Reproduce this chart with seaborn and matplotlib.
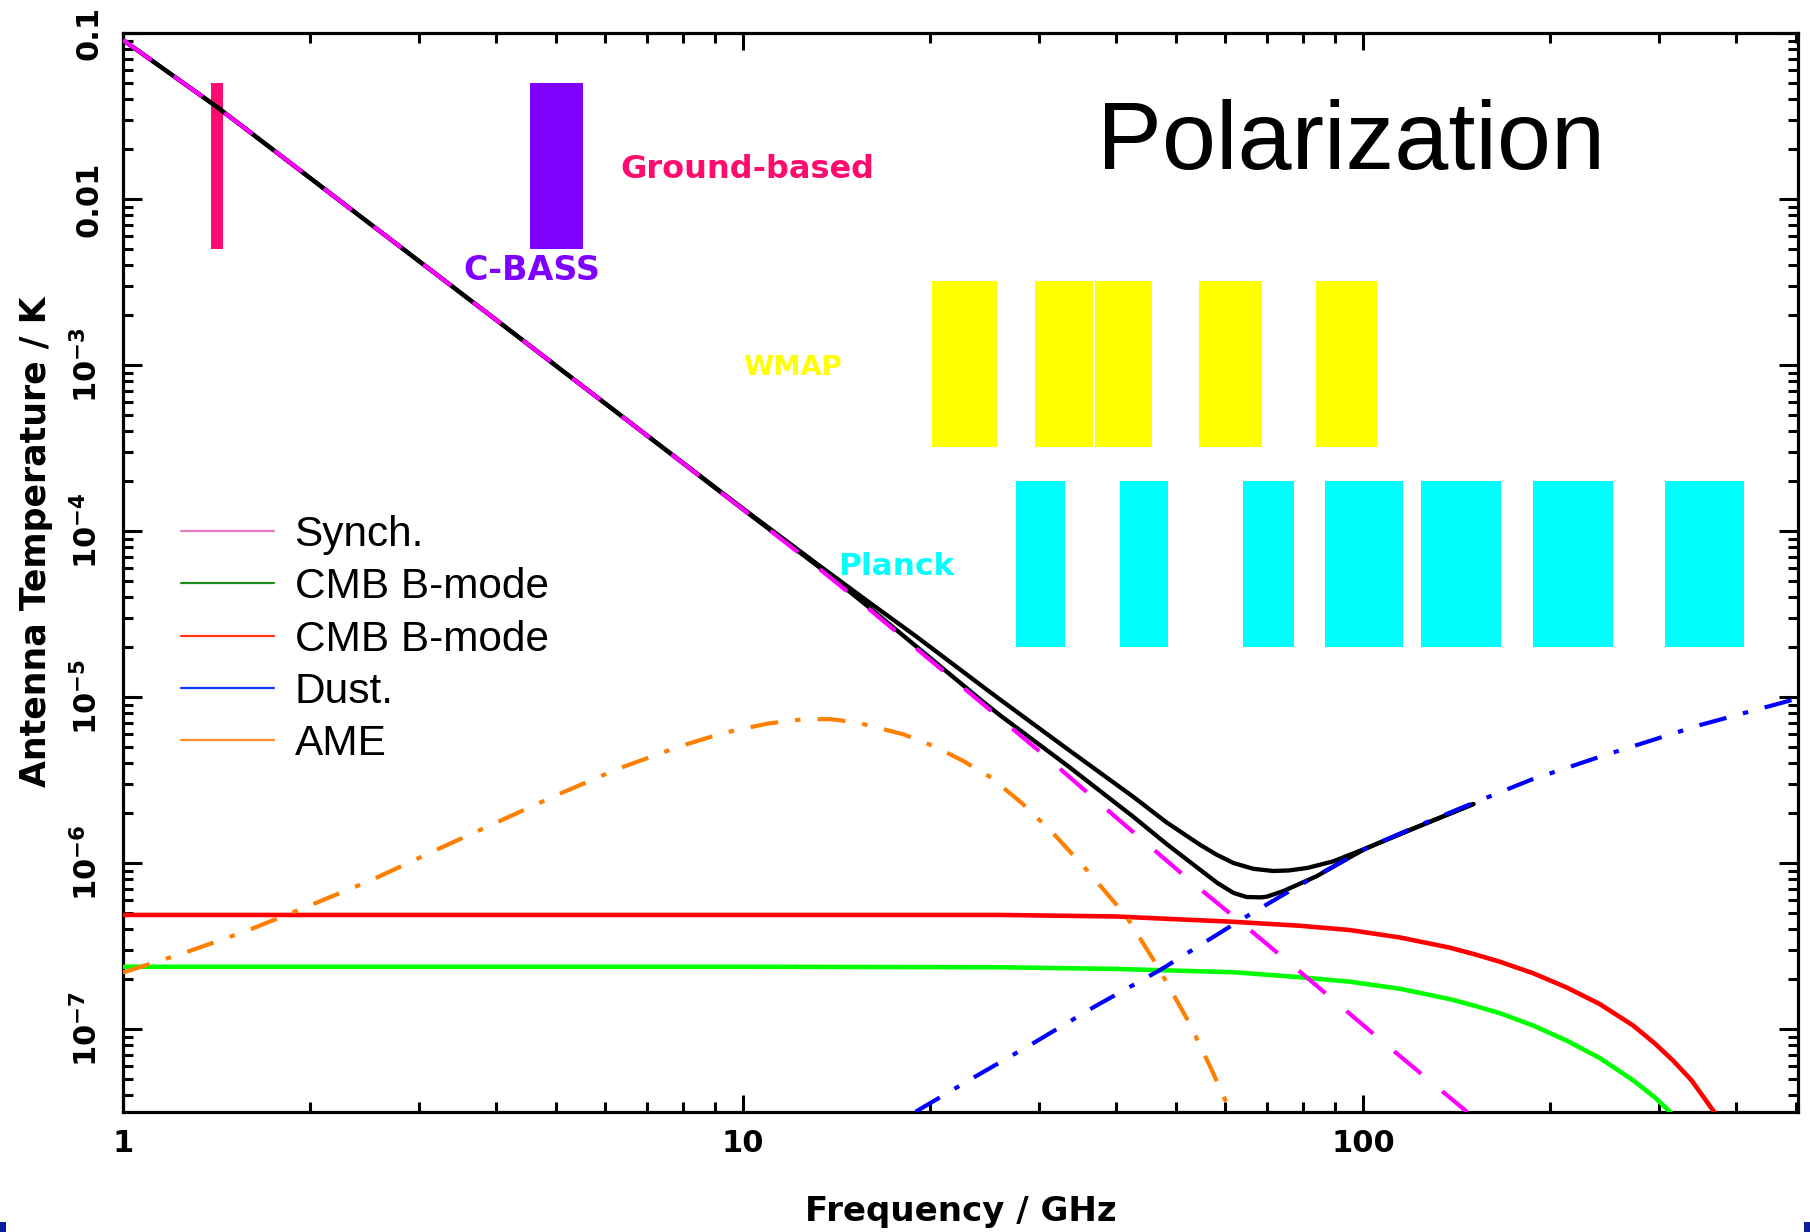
import numpy as np
import matplotlib
matplotlib.use("Agg")
import matplotlib.pyplot as plt
import seaborn as sns
from matplotlib.lines import Line2D
from matplotlib.patches import Rectangle
from matplotlib.ticker import LogLocator, NullFormatter, FixedLocator, FixedFormatter

# ---------------- data (log10 GHz, log10 K) ----------------
synch_lognu = [0.0, 0.151, 0.4468, 0.6, 0.8124, 1.0, 1.1188, 1.2, 1.4145, 1.495, 1.6,
               1.726, 1.8016, 1.9, 2.038, 2.168]
synch_logT = [-1.042, -1.444, -2.287, -2.723, -3.331, -3.87, -4.215, -4.46, -5.128, -5.38,
              -5.72, -6.122, -6.353, -6.66, -7.096, -7.50]

total_hi_lognu = [0.0, 0.151, 0.4468, 0.6, 0.8124, 1.0, 1.12, 1.20, 1.28, 1.3876, 1.4145,
                  1.522, 1.629, 1.683, 1.737, 1.764, 1.791, 1.823, 1.855, 1.88, 1.91,
                  1.952, 2.006, 2.086, 2.178]
total_hi_logT = [-1.042, -1.444, -2.287, -2.723, -3.331, -3.865, -4.20, -4.42, -4.637,
                 -4.94, -5.015, -5.31, -5.60, -5.755, -5.89, -5.95, -6.00, -6.035,
                 -6.048, -6.045, -6.03, -5.99, -5.91, -5.785, -5.645]

total_lo_lognu = [0.0, 0.151, 0.4468, 0.6, 0.8124, 1.0, 1.12, 1.20, 1.28, 1.3876, 1.4145,
                  1.522, 1.629, 1.683, 1.737, 1.765, 1.791, 1.8124, 1.835, 1.8446, 1.871,
                  1.925, 1.979, 2.006, 2.086, 2.178]
total_lo_logT = [-1.042, -1.444, -2.287, -2.723, -3.331, -3.87, -4.21, -4.45, -4.697,
                 -5.03, -5.11, -5.41, -5.72, -5.885, -6.04, -6.12, -6.18, -6.205, -6.207,
                 -6.203, -6.17, -6.08, -5.965, -5.91, -5.785, -5.645]

cmb_red_lognu = [0.0, 1.0, 1.4145, 1.6, 1.79, 1.898, 1.979, 2.060, 2.140, 2.18, 2.221,
                 2.275, 2.3285, 2.382, 2.436, 2.47, 2.50, 2.53, 2.5645, 2.575]
cmb_red_logT = [-6.313, -6.313, -6.313, -6.322, -6.354, -6.378, -6.404, -6.449, -6.51,
                -6.55, -6.595, -6.665, -6.75, -6.85, -6.98, -7.085, -7.19, -7.31, -7.49,
                -7.54]

cmb_green_lognu = [0.0, 1.0, 1.4145, 1.6, 1.791, 1.898, 1.979, 2.060, 2.140, 2.18, 2.221,
                   2.275, 2.3285, 2.382, 2.436, 2.47, 2.49, 2.50]
cmb_green_logT = [-6.625, -6.625, -6.628, -6.638, -6.658, -6.688, -6.715, -6.758, -6.82,
                  -6.86, -6.905, -6.98, -7.07, -7.175, -7.31, -7.41, -7.48, -7.52]

dust_lognu = [1.2785, 1.3745, 1.4706, 1.5666, 1.6726, 1.807, 1.898, 2.006, 2.086, 2.167,
              2.270, 2.382, 2.5435, 2.70]
dust_logT = [-7.498, -7.287, -7.08, -6.866, -6.645, -6.333, -6.133, -5.91, -5.78, -5.655,
             -5.50, -5.36, -5.169, -5.01]

ame_lognu = [0.0, 0.1, 0.2, 0.3, 0.4, 0.5, 0.6, 0.7, 0.8, 0.9, 0.97, 1.04, 1.095, 1.14,
             1.182, 1.259, 1.31, 1.355, 1.40, 1.45, 1.50, 1.554, 1.618, 1.669, 1.72,
             1.752, 1.778, 1.79]
ame_logT = [-6.66, -6.54, -6.408, -6.258, -6.104, -5.93, -5.76, -5.59, -5.43, -5.295,
            -5.215, -5.16, -5.135, -5.133, -5.152, -5.225, -5.30, -5.385, -5.485, -5.64,
            -5.82, -6.04, -6.32, -6.625, -6.965, -7.215, -7.43, -7.535]

# experiment bands (GHz) and sensitivity ranges (K)
ground_lo, ground_hi = [1.388], [1.45]
ground_T = (0.005, 0.05)
cbass_lo, cbass_hi = [4.535], [5.52]
cbass_T = (0.005, 0.05)
wmap_lo = [20.14, 29.63, 37.02, 54.45, 83.95]
wmap_hi = [25.72, 36.71, 45.67, 68.65, 105.3]
wmap_T = (3.2e-4, 3.2e-3)
planck_lo = [27.54, 40.52, 64.10, 86.87, 124.0, 187.9, 306.4]
planck_hi = [33.11, 48.52, 77.40, 115.8, 166.7, 252.7, 411.8]
planck_T = (2.0e-5, 2.0e-4)

legend_labels = ["Synch.", "CMB B-mode", "CMB B-mode", "Dust.", "AME"]
legend_colors = ["#ee78be", "#1e8c1e", "#ff3414", "#1038ff", "#ff8a28"]

ytick_vals = [1e-1, 1e-2, 1e-3, 1e-4, 1e-5, 1e-6, 1e-7]
ytick_labels = ["0.1", "0.01", r"$\mathbf{10^{-3}}$", r"$\mathbf{10^{-4}}$",
                r"$\mathbf{10^{-5}}$", r"$\mathbf{10^{-6}}$", r"$\mathbf{10^{-7}}$"]
xtick_vals = [1, 10, 100]
xtick_labels = ["1", "10", "100"]

# ---------------- figure ----------------
sns.set_theme(style="ticks")
plt.rcParams["font.family"] = ["DejaVu Sans"]
plt.rcParams["mathtext.fontset"] = "dejavusans"
plt.rcParams["text.color"] = "black"
plt.rcParams["axes.labelcolor"] = "black"
plt.rcParams["xtick.color"] = "black"
plt.rcParams["ytick.color"] = "black"

W, H = 1810, 1232
fig = plt.figure(figsize=(W / 100, H / 100), dpi=100)
fig.patch.set_facecolor("white")
ax = fig.add_axes([123 / W, 1 - 1112 / H, (1798 - 123) / W, (1112 - 33) / H])
ax.set_facecolor("white")
ax.set_xscale("log")
ax.set_yscale("log")
ax.set_xlim(1, 503)
ax.set_ylim(10 ** -7.5, 0.1)


def band(lo, hi, trange, color):
    lo = np.asarray(lo)
    hi = np.asarray(hi)
    ax.bar(lo, height=trange[1] - trange[0], width=hi - lo, bottom=trange[0],
           align="edge", color=color, linewidth=0, zorder=1)


band(ground_lo, ground_hi, ground_T, "#ff0a6e")
band(cbass_lo, cbass_hi, cbass_T, "#8000ff")
band(wmap_lo, wmap_hi, wmap_T, "#ffff00")
band(planck_lo, planck_hi, planck_T, "#00ffff")


def curve(lognu, logT, color, lw, ls, z):
    x = 10 ** np.asarray(lognu)
    y = 10 ** np.asarray(logT)
    sns.lineplot(x=x, y=y, ax=ax, color=color, linewidth=lw, linestyle=ls,
                 sort=False, estimator=None, legend=False, zorder=z)


dashdot = (0, (6.7, 4.1, 1.3, 4.1))
curve(total_hi_lognu, total_hi_logT, "black", 3.1, "-", 3)
curve(total_lo_lognu, total_lo_logT, "black", 3.1, "-", 3)
curve(cmb_red_lognu, cmb_red_logT, "#ff0000", 3.3, "-", 4)
curve(cmb_green_lognu, cmb_green_logT, "#00ff00", 3.3, "-", 4)
curve(synch_lognu, synch_logT, "#ff00ff", 3.0, (0, (8.4, 6.6)), 5)
curve(dust_lognu, dust_logT, "#0000ff", 3.0, dashdot, 6)
curve(ame_lognu, ame_logT, "#ff8000", 3.0, dashdot, 7)

# ---------------- axes styling ----------------
for s in ax.spines.values():
    s.set_linewidth(2.3)
    s.set_color("black")
    s.set_visible(True)

ax.xaxis.set_major_locator(FixedLocator(xtick_vals))
ax.xaxis.set_major_formatter(FixedFormatter(xtick_labels))
ax.yaxis.set_major_locator(FixedLocator(ytick_vals))
ax.yaxis.set_major_formatter(FixedFormatter(ytick_labels))
ax.xaxis.set_minor_locator(LogLocator(base=10, subs=np.arange(2, 10), numticks=30))
ax.yaxis.set_minor_locator(LogLocator(base=10, subs=np.arange(2, 10), numticks=30))
ax.xaxis.set_minor_formatter(NullFormatter())
ax.yaxis.set_minor_formatter(NullFormatter())

ax.tick_params(which="both", direction="in", top=True, right=True, colors="black",
               width=2.2)
ax.tick_params(axis="y", which="major", length=14, pad=14)
ax.tick_params(axis="x", which="major", length=12, pad=12)
ax.tick_params(which="minor", length=7.5)
for t in ax.get_xticklabels():
    t.set_fontsize(22)
    t.set_fontweight("bold")
for t in ax.get_yticklabels():
    t.set_fontsize(22)
    t.set_fontweight("bold")
    t.set_rotation(90)
    t.set_verticalalignment("center")
    t.set_horizontalalignment("right")

ax.set_xlabel("Frequency / GHz", fontsize=24.5, fontweight="bold", color="black")
ax.set_ylabel("Antenna Temperature / K", fontsize=25, fontweight="bold", color="black")
ax.xaxis.set_label_coords(0.5, -0.077)
ax.yaxis.set_label_coords(-0.042, 0.529)

# ---------------- annotations ----------------
ax.text(10.15, 0.015, "Ground-based", color="#ff0a6e", fontsize=23, fontweight="bold",
        ha="center", va="center", zorder=8)
ax.text(4.57, 3.73e-3, "C-BASS", color="#8000ff", fontsize=24, fontweight="bold",
        ha="center", va="center", zorder=8)
ax.text(12.0, 9.6e-4, "WMAP", color="#ffff00", fontsize=19.7, fontweight="bold",
        ha="center", va="center", zorder=8)
ax.text(17.66, 6.07e-5, "Planck", color="#00ffff", fontsize=22.5, fontweight="bold",
        ha="center", va="center", zorder=8)
ax.text(0.7331, 0.874, "Polarization", transform=ax.transAxes, fontsize=70,
        family="Liberation Sans", ha="center", va="baseline", color="black", zorder=8)

handles = [Line2D([0], [0], color=c, lw=1.6) for c in legend_colors]
leg = ax.legend(handles, legend_labels, loc="upper left",
                bbox_to_anchor=(181 / W, 1 - 515 / H), bbox_transform=fig.transFigure,
                frameon=False, prop={"family": "Liberation Sans", "size": 30.5},
                handlelength=2.19, handletextpad=0.49, labelspacing=0.29,
                borderpad=0, borderaxespad=0)
for txt in leg.get_texts():
    txt.set_color("black")
leg.set_zorder(9)

# slide corner marks
fig.add_artist(Rectangle((0, 0), 6 / W, 10 / H, transform=fig.transFigure,
                         color="#0a1e9e", lw=0))
fig.add_artist(Rectangle((1 - 6 / W, 0), 6 / W, 10 / H, transform=fig.transFigure,
                         color="#0a1e9e", lw=0))

fig.savefig("out.png", dpi=100, facecolor="white")
